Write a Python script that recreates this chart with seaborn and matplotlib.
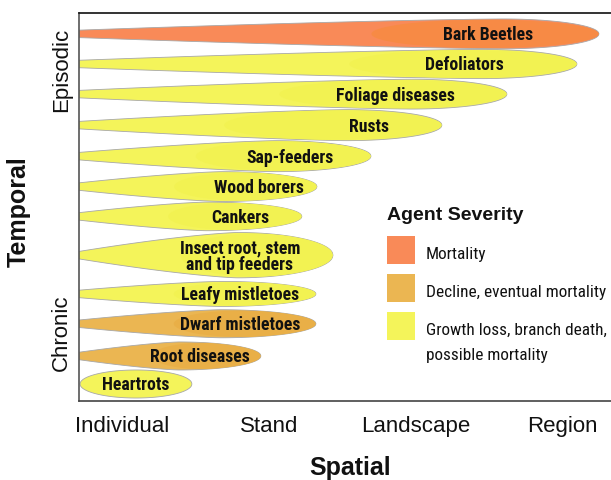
import numpy as np
import matplotlib.pyplot as plt
import seaborn as sns
from matplotlib.patches import Rectangle, Ellipse

# Data (agents listed top to bottom)
agents = ["Bark Beetles", "Defoliators", "Foliage diseases", "Rusts",
          "Sap-feeders", "Wood borers", "Cankers",
          "Insect root, stem\nand tip feeders", "Leafy mistletoes",
          "Dwarf mistletoes", "Root diseases", "Heartrots"]
severity = ["Mortality", "Growth", "Growth", "Growth", "Growth", "Growth",
            "Growth", "Growth", "Growth", "Decline", "Decline", "Growth"]
# temporal position (0 = most episodic, 13 = most chronic)
temporal = [0.69, 1.70, 2.71, 3.75, 4.79, 5.81, 6.81, 8.11, 9.41, 10.41, 11.49, 12.43]
# spatial extent (0 = Individual, 1 = Stand, 2 = Landscape, 3 = Region)
spatial_start = [-0.296] * 11 + [-0.289]
spatial_end = [3.246, 3.096, 2.619, 2.176, 1.693, 1.325, 1.222, 1.434,
               1.318, 1.318, 0.943, 0.473]
spread = [0.50, 0.49, 0.50, 0.52, 0.52, 0.50, 0.48, 0.76, 0.42, 0.47, 0.47, 0.47]

scale_labels = ["Individual", "Stand", "Landscape", "Region"]
scale_ticks = [0, 1, 2, 3]
temporal_labels = ["Episodic", "Chronic"]
temporal_ticks = [1.90, 10.72]

severity_names = ["Mortality", "Decline", "Growth"]
severity_labels = ["Mortality", "Decline, eventual mortality",
                   "Growth loss, branch death,\npossible mortality"]
severity_colors = ["#F98A58", "#EBB652", "#F4F45A"]
severity_inner = ["#F78A45", "#E9AF47", "#F2F252"]

# label x positions inside the shapes
label_x = [2.49, 2.33, 1.86, 1.68, 1.14, 0.93, 0.80, 0.80, 0.80, 0.80, 0.53, 0.09]

palette = dict(zip(severity_names, severity_colors))
inner_palette = dict(zip(severity_names, severity_inner))

sns.set_theme(style="white")
plt.rcParams['font.family'] = ['Liberation Sans', 'DejaVu Sans']
condensed = ['Roboto Condensed', 'Liberation Sans', 'DejaVu Sans']

W, H = 611, 480
fig = plt.figure(figsize=(W / 100, H / 100), dpi=100)
ax = fig.add_axes([79 / W, 1 - 401 / H, 1 - 79 / W, (401 - 13.3) / H])


def teardrop(x0, x1, yc, h, tip, n=200):
    L = x1 - x0
    cap = L / 2 if tip == 0 else min(0.45 * L, 0.65)
    xm = x1 - cap
    xl = np.linspace(x0, xm, n)
    s = (xl - x0) / (xm - x0)
    if tip > 0:
        hl = tip + (h - tip) * (1 - (1 - s) ** 1.35)
    else:
        hl = h * np.sqrt(np.clip(1 - (1 - s) ** 2, 0, 1))
    xr = np.linspace(xm, x1, n)[1:]
    hr = h * np.sqrt(np.clip(1 - ((xr - xm) / cap) ** 2, 0, 1))
    xs = np.concatenate([xl, xr])
    hs = np.concatenate([hl, hr])
    px = np.concatenate([xs, xs[::-1]])
    py = np.concatenate([yc - hs, (yc + hs)[::-1]])
    return px, py


for i, name in enumerate(agents):
    x0, x1 = spatial_start[i], spatial_end[i]
    yc, h = temporal[i], spread[i]
    tip = 0 if x0 > -0.295 else 0.125
    px, py = teardrop(x0, x1, yc, h, tip)
    poly = ax.fill(px, py, color=palette[severity[i]], ec="#A8A8A8",
                   lw=0.6, zorder=2)[0]
    if tip > 0:
        w = min(0.6 * (x1 - x0), 1.55)
        inner = Ellipse((x1 - w / 2, yc), w, 2 * 0.95 * h,
                        color=inner_palette[severity[i]], lw=0, zorder=2.5)
        ax.add_patch(inner)
        inner.set_clip_path(poly)
    ax.text(label_x[i], yc + 0.05, name, ha="center", va="center",
            multialignment="center", linespacing=0.95,
            family=condensed, weight="bold", fontsize=12.8,
            color="#111111", zorder=3)

ax.set_xlim(-0.296, 3.328)
ax.set_ylim(13, 0)

ax.set_xticks(scale_ticks, scale_labels, fontsize=16, color="#111111")
ax.set_yticks(temporal_ticks, temporal_labels, fontsize=16, color="#111111",
              rotation=90, va="center")
ax.tick_params(axis="x", length=0, pad=11)
ax.tick_params(axis="y", length=0, pad=5)

ax.set_xlabel("Spatial", fontsize=18, weight="bold", color="#111111")
ax.xaxis.set_label_coords((350 - 79) / 532, -(456 - 401) / 387.7)
ax.set_ylabel("Temporal", fontsize=18, weight="bold", color="#111111")
ax.yaxis.label.set_verticalalignment("center")
ax.yaxis.set_label_coords(-(79 - 19) / 532, 1 - (212 - 13.3) / 387.7)

sns.despine(ax=ax, right=True, top=False)
ax.spines["top"].set_color("#111111")
ax.spines["left"].set_color("#555555")
ax.spines["bottom"].set_color("#444444")
for side in ["top", "left", "bottom"]:
    ax.spines[side].set_linewidth(1.2)


# Legend (drawn in figure pixels)
def fx(p):
    return p / W


def fy(p):
    return 1 - p / H


fig.text(fx(387), fy(219.5), "Agent Severity", fontsize=14, weight="bold",
         color="#111111", va="baseline")
for k, (lab, col) in enumerate(zip(severity_labels, severity_colors)):
    top = 236 + 38 * k
    fig.add_artist(Rectangle((fx(387), fy(top + 28)), 28 / W, 28 / H,
                             transform=fig.transFigure, color=col, lw=0))
    for j, line in enumerate(lab.split("\n")):
        fig.text(fx(426), fy(top + 22.5 + 25.6 * j), line, fontsize=12.4,
                 family=condensed, color="#111111", va="baseline")

fig.savefig("out.png", dpi=100)
